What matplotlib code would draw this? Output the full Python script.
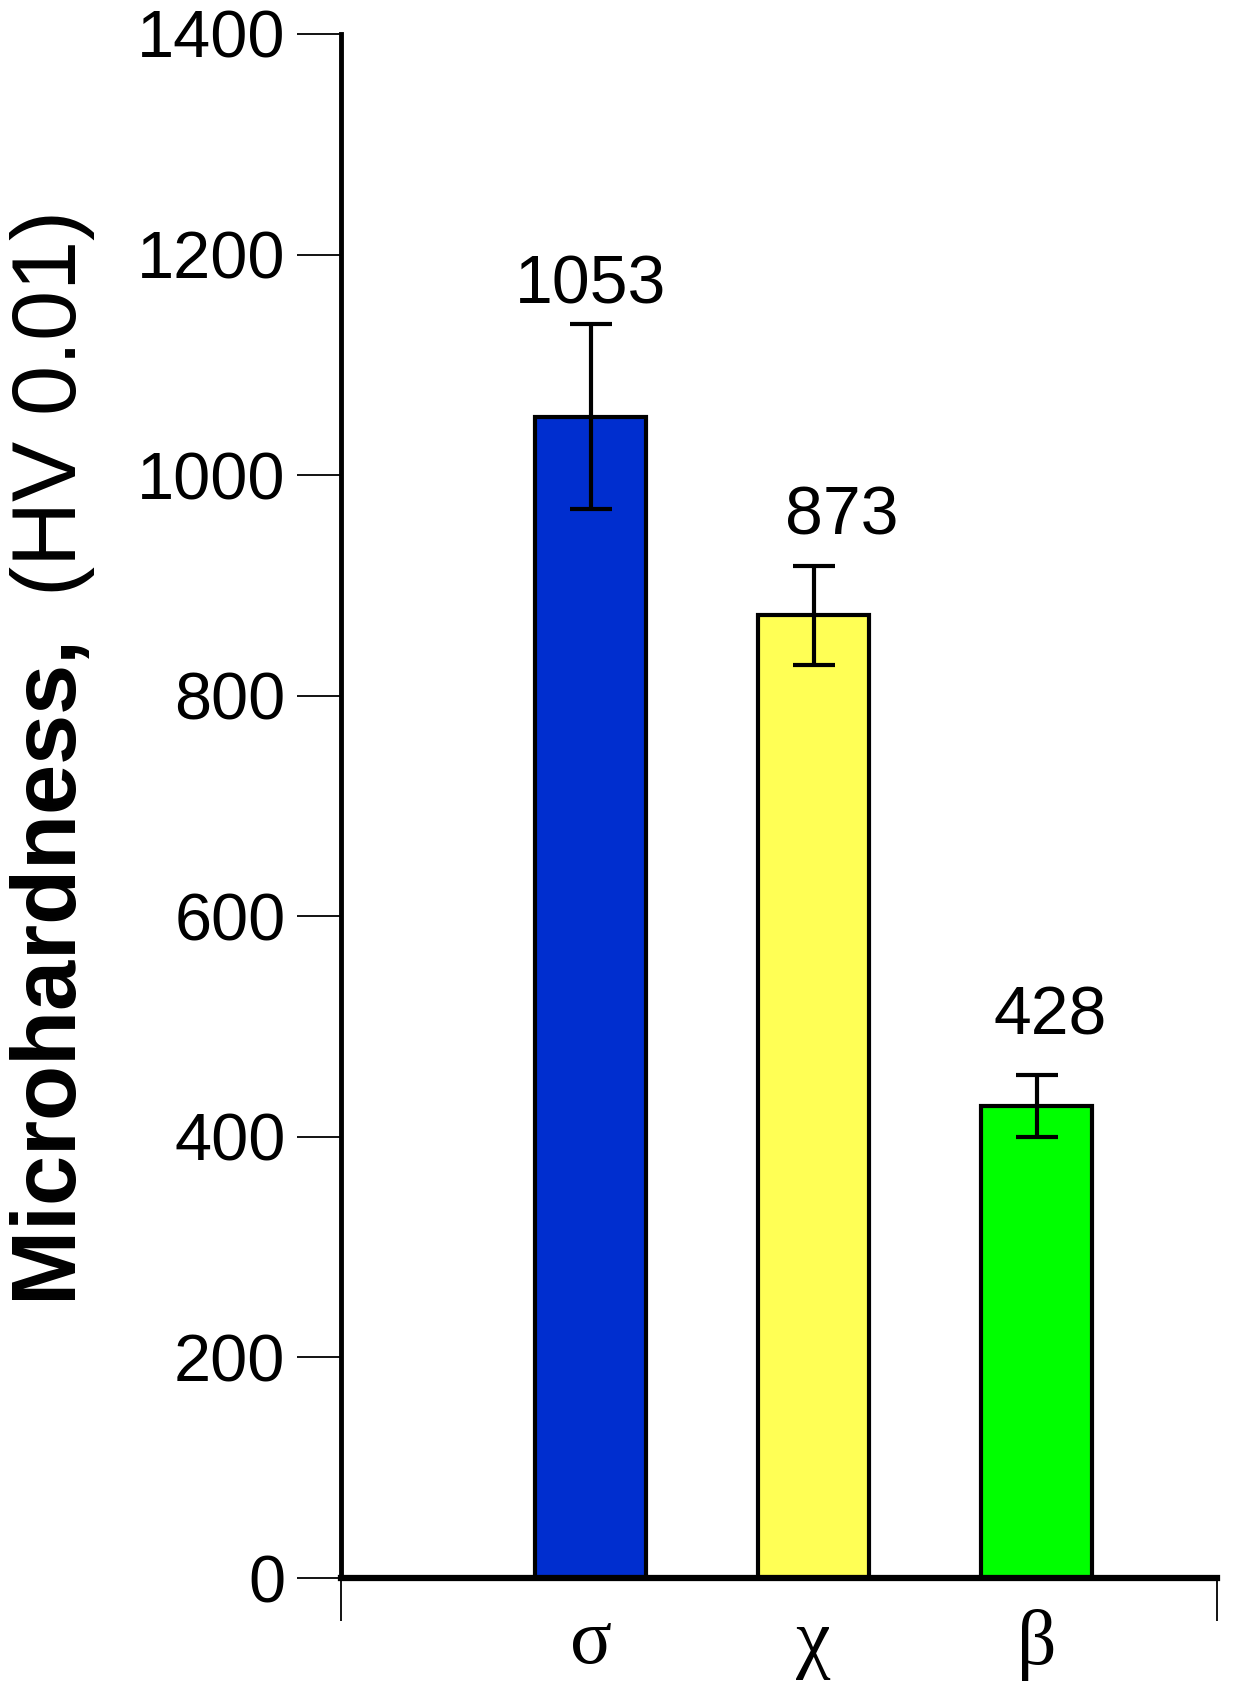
import matplotlib
matplotlib.use("Agg")
import matplotlib.pyplot as plt
import numpy as np

phases = ["σ", "χ", "β"]
hardness = [1053, 873, 428]
errors = [84, 45, 28]
colors = ["#002ECF", "#FFFF55", "#00FF00"]
yticks = [0, 200, 400, 600, 800, 1000, 1200, 1400]

plt.rcParams['font.family'] = ['Liberation Sans', 'DejaVu Sans']
plt.rcParams['mathtext.fontset'] = 'custom'
plt.rcParams['mathtext.rm'] = 'Liberation Sans'
plt.rcParams['mathtext.bf'] = 'Liberation Sans:bold'

fig = plt.figure(figsize=(12.33, 16.89), dpi=100)
ax = fig.add_axes([0.2766, 0.0657, 0.7105, 0.9142])

x = np.arange(len(phases))
ax.bar(x, hardness, width=0.5, color=colors, edgecolor='black', linewidth=3, zorder=2)
ax.errorbar(x, hardness, yerr=errors, fmt='none', ecolor='black', elinewidth=3,
            capsize=15, capthick=3, zorder=3)

# value labels above the error bars
gaps = [5, 12, 19]
shifts = [0, 20, 10]
for xi, v, e, g, s in zip(x, hardness, errors, gaps, shifts):
    ax.annotate(str(v), (xi, v + e), xytext=(s, g), textcoords='offset points',
                ha='center', va='bottom', fontsize=49)

ax.set_xlim(-1.12, 2.81)
ax.set_ylim(0, 1400)
ax.set_yticks(yticks)
ax.tick_params(axis='y', direction='out', length=32, width=1.3, labelsize=48, pad=8)

ax.set_xticks(x)
ax.set_xticklabels(phases, family='Liberation Serif', fontsize=56)
ax.tick_params(axis='x', which='major', length=0, pad=22)
ax.set_xticks([-1.12, 2.81], minor=True)
ax.tick_params(axis='x', which='minor', direction='out', length=31, width=1.3)

ax.spines['top'].set_visible(False)
ax.spines['right'].set_visible(False)
ax.spines['left'].set_linewidth(3.5)
ax.spines['bottom'].set_linewidth(4.5)

ax.set_ylabel(r"$\mathbf{Microhardness,}$ (HV 0.01)", fontsize=65)
ax.yaxis.set_label_coords(-0.279, 0.53)

fig.savefig("out.png", dpi=100)
